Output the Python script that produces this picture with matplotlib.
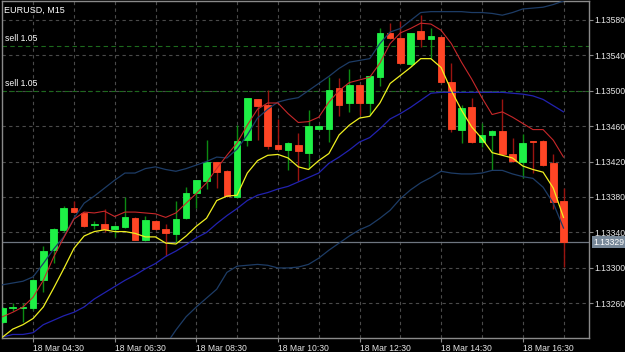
import numpy as np
import pandas as pd
import matplotlib
matplotlib.use('Agg')
import matplotlib.pyplot as plt

plt.rcParams['font.family'] = ['Liberation Sans', 'DejaVu Sans']

# EURUSD M15 candles, 18 Mar 03:45 .. 17:30
times = pd.date_range('2019-03-18 03:45', periods=56, freq='15min')

opens = [1.13239, 1.13255, 1.13255, 1.13255, 1.13286, 1.13320, 1.13343, 1.13368,
         1.13362, 1.13348, 1.13349, 1.13344, 1.13346, 1.13356, 1.13331, 1.13353,
         1.13344, 1.13338, 1.13356, 1.13385, 1.13398, 1.13419, 1.13409, 1.13380,
         1.13444, 1.13490, 1.13484, 1.13439, 1.13433, 1.13439, 1.13430, 1.13457,
         1.13457, 1.13503, 1.13486, 1.13506, 1.13486, 1.13515, 1.13565, 1.13559,
         1.13530, 1.13567, 1.13558, 1.13560, 1.13510, 1.13456, 1.13481, 1.13442,
         1.13450, 1.13454, 1.13429, 1.13420, 1.13443, 1.13443, 1.13418, 1.13375]
highs = [1.13256, 1.13261, 1.13260, 1.13287, 1.13325, 1.13345, 1.13370, 1.13375,
         1.13363, 1.13353, 1.13367, 1.13348, 1.13380, 1.13357, 1.13359, 1.13354,
         1.13349, 1.13375, 1.13391, 1.13399, 1.13444, 1.13420, 1.13410, 1.13461,
         1.13492, 1.13491, 1.13501, 1.13468, 1.13442, 1.13452, 1.13478, 1.13461,
         1.13515, 1.13514, 1.13524, 1.13507, 1.13517, 1.13571, 1.13576, 1.13578,
         1.13565, 1.13585, 1.13571, 1.13561, 1.13531, 1.13484, 1.13492, 1.13463,
         1.13455, 1.13491, 1.13446, 1.13451, 1.13443, 1.13444, 1.13429, 1.13390]
lows = [1.13238, 1.13251, 1.13239, 1.13253, 1.13273, 1.13306, 1.13341, 1.13362,
        1.13346, 1.13344, 1.13341, 1.13335, 1.13345, 1.13331, 1.13330, 1.13343,
        1.13314, 1.13328, 1.13355, 1.13368, 1.13389, 1.13390, 1.13380, 1.13379,
        1.13438, 1.13444, 1.13434, 1.13433, 1.13410, 1.13398, 1.13412, 1.13456,
        1.13442, 1.13471, 1.13476, 1.13472, 1.13472, 1.13505, 1.13558, 1.13530,
        1.13528, 1.13549, 1.13537, 1.13509, 1.13453, 1.13441, 1.13441, 1.13436,
        1.13410, 1.13428, 1.13420, 1.13401, 1.13407, 1.13415, 1.13367, 1.13301]
closes = [1.13255, 1.13256, 1.13256, 1.13286, 1.13319, 1.13344, 1.13368, 1.13363,
          1.13347, 1.13349, 1.13344, 1.13347, 1.13358, 1.13332, 1.13354, 1.13344,
          1.13339, 1.13355, 1.13385, 1.13399, 1.13419, 1.13408, 1.13381, 1.13443,
          1.13492, 1.13483, 1.13438, 1.13434, 1.13441, 1.13432, 1.13460, 1.13460,
          1.13501, 1.13484, 1.13506, 1.13486, 1.13516, 1.13565, 1.13559, 1.13531,
          1.13565, 1.13558, 1.13561, 1.13510, 1.13457, 1.13480, 1.13442, 1.13450,
          1.13454, 1.13429, 1.13421, 1.13441, 1.13442, 1.13416, 1.13374, 1.13329]

# indicator lines
ma_yellow = [1.13222, 1.13231, 1.13236, 1.13243, 1.13256, 1.13277, 1.13299, 1.13322,
             1.13336, 1.13341, 1.13343, 1.13341, 1.13341, 1.13339, 1.13335, 1.13335,
             1.13328, 1.13327, 1.13336, 1.13347, 1.13356, 1.13376, 1.13381, 1.13382,
             1.13407, 1.13421, 1.13427, 1.13428, 1.13424, 1.13414, 1.13411, 1.13421,
             1.13429, 1.13450, 1.13461, 1.13469, 1.13471, 1.13486, 1.13508, 1.13517,
             1.13526, 1.13536, 1.13536, 1.13526, 1.13500, 1.13478, 1.13459, 1.13446,
             1.13430, 1.13427, 1.13424, 1.13415, 1.13411, 1.13408, 1.13390, 1.13357]
ma_red = [1.13245, 1.13250, 1.13256, 1.13267, 1.13286, 1.13312, 1.13334, 1.13355,
          1.13363, 1.13362, 1.13364, 1.13358, 1.13363, 1.13363, 1.13362, 1.13361,
          1.13357, 1.13362, 1.13373, 1.13384, 1.13396, 1.13412, 1.13427, 1.13441,
          1.13461, 1.13479, 1.13486, 1.13486, 1.13474, 1.13464, 1.13465, 1.13470,
          1.13487, 1.13500, 1.13509, 1.13512, 1.13515, 1.13531, 1.13553, 1.13565,
          1.13570, 1.13576, 1.13575, 1.13568, 1.13553, 1.13532, 1.13513, 1.13492,
          1.13473, 1.13476, 1.13470, 1.13463, 1.13456, 1.13456, 1.13444, 1.13425]
ma_mid = [1.13222, 1.13225, 1.13225, 1.13227, 1.13236, 1.13241, 1.13246, 1.13250,
          1.13256, 1.13265, 1.13272, 1.13279, 1.13286, 1.13292, 1.13299, 1.13305,
          1.13313, 1.13319, 1.13326, 1.13334, 1.13340, 1.13350, 1.13359, 1.13367,
          1.13376, 1.13382, 1.13385, 1.13389, 1.13392, 1.13397, 1.13402, 1.13407,
          1.13418, 1.13425, 1.13433, 1.13442, 1.13447, 1.13457, 1.13468, 1.13474,
          1.13481, 1.13489, 1.13497, 1.13498, 1.13498, 1.13498, 1.13498, 1.13498,
          1.13498, 1.13498, 1.13497, 1.13496, 1.13494, 1.13490, 1.13483, 1.13476]
band_up = [1.13281, 1.13283, 1.13285, 1.13290, 1.13305, 1.13321, 1.13335, 1.13356,
           1.13373, 1.13381, 1.13390, 1.13399, 1.13407, 1.13407, 1.13412, 1.13414,
           1.13411, 1.13409, 1.13412, 1.13416, 1.13420, 1.13425, 1.13424, 1.13434,
           1.13450, 1.13469, 1.13479, 1.13487, 1.13490, 1.13492, 1.13500, 1.13508,
           1.13516, 1.13525, 1.13532, 1.13534, 1.13536, 1.13553, 1.13566, 1.13570,
           1.13579, 1.13588, 1.13589, 1.13589, 1.13589, 1.13589, 1.13588, 1.13588,
           1.13587, 1.13585, 1.13588, 1.13592, 1.13593, 1.13594, 1.13597, 1.13601]
band_low = [np.nan] * 16 + [
    1.13213, 1.13230, 1.13245, 1.13256, 1.13266, 1.13276, 1.13295, 1.13302,
    1.13303, 1.13304, 1.13303, 1.13300, 1.13300, 1.13301, 1.13304, 1.13311,
    1.13320, 1.13328, 1.13336, 1.13343, 1.13348, 1.13356, 1.13365, 1.13378,
    1.13388, 1.13396, 1.13402, 1.13409, 1.13407, 1.13406, 1.13406, 1.13407,
    1.13410, 1.13410, 1.13406, 1.13403, 1.13401, 1.13391, 1.13373, 1.13345]

order_prices = [1.13550, 1.13500]
order_labels = ['sell 1.05', 'sell 1.05']
bid = 1.13329
price_ticks = [1.13260, 1.13300, 1.13340, 1.13380, 1.13420, 1.13460, 1.13500, 1.13540, 1.13580]
time_ticks = ['04:30', '06:30', '08:30', '10:30', '12:30', '14:30', '16:30']

fig = plt.figure(figsize=(6.25, 3.52), dpi=100, facecolor='black')
ax = fig.add_axes([2 / 625, 14 / 352, 587 / 625, 337 / 352], facecolor='black')
x = np.arange(len(opens))
ax.set_xlim(-0.05, 57.5)
ax.set_ylim(1.13221, 1.13601)

# grid
grid_kw = dict(color='#4a4a4a', lw=0.8, ls=(0, (3, 3)), zorder=0)
for p in price_ticks:
    ax.axhline(p, **grid_kw)
hhmm = times.strftime('%H:%M')
for i, t in enumerate(times):
    if t.minute == 30:
        ax.axvline(i, **grid_kw)

# order lines
for p, lab in zip(order_prices, order_labels):
    ax.axhline(p, color='#1c6a1c', lw=0.8, ls=(0, (4, 3)), zorder=1)
    ax.annotate(lab, xy=(0, p), xycoords=('axes fraction', 'data'),
                xytext=(2, 2), textcoords='offset points', color='white',
                fontsize=6.2, va='bottom', ha='left')

# bid line
ax.axhline(bid, color='#6e7680', lw=0.9, zorder=1)

# candles
o = np.array(opens); h = np.array(highs); l = np.array(lows); c = np.array(closes)
up = c >= o
wick_col = np.where(up, '#0c8a12', '#9a1410')
body_col = np.where(up, '#1ef046', '#ff4525')
ax.vlines(x, l, h, colors=wick_col, lw=1, zorder=2)
ax.bar(x, c - o, bottom=o, width=0.64, color=body_col, edgecolor=body_col,
       linewidth=0.6, zorder=3)

# indicators
ax.plot(x, band_up, color='#1d3c66', lw=0.9, zorder=4)
ax.plot(x, band_low, color='#1d3c66', lw=0.9, zorder=4)
ax.plot(x, ma_mid, color='#2222b0', lw=0.9, zorder=4)
ax.plot(x, ma_red, color='#c8282a', lw=0.8, zorder=5)
ax.plot(x, ma_yellow, color='#f0f020', lw=0.9, zorder=6)

# title
ax.text(0.004, 0.985, 'EURUSD, M15', transform=ax.transAxes, color='white',
        fontsize=6.5, va='top', ha='left')

# axes styling
for s in ax.spines.values():
    s.set_color('#8a8a8a')
    s.set_linewidth(1)
ax.yaxis.tick_right()
ax.set_yticks(price_ticks)
ax.set_yticklabels([f'{p:.5f}' for p in price_ticks])
tick_idx = [list(hhmm).index(t) for t in time_ticks]
ax.set_xticks(tick_idx)
ax.set_xticklabels(['18 Mar ' + t for t in time_ticks], ha='left')
ax.tick_params(axis='both', colors='#8a8a8a', labelcolor='#e6e6e6',
               labelsize=6.2, length=3, width=0.8, pad=1)

ax.annotate(f'{bid:.5f}', xy=(1, bid), xycoords=('axes fraction', 'data'),
            xytext=(3.2, 0), textcoords='offset points', va='center', ha='left',
            fontsize=6.2, color='white',
            bbox=dict(boxstyle='square,pad=0.2', fc='#778899', ec='none'),
            annotation_clip=False)

fig.savefig('out.png', dpi=100, facecolor='black')
